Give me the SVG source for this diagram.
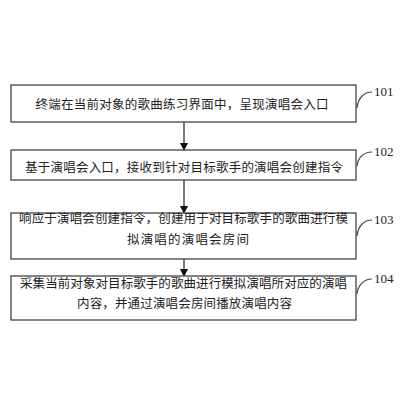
<svg xmlns="http://www.w3.org/2000/svg" width="400" height="400" viewBox="0 0 400 400">
<style>
.box{fill:#fff;stroke:#444;stroke-width:1.3}
.t{font-family:"Noto Sans CJK SC","Noto Sans CJK JP",sans-serif;font-size:12.5px;fill:#222;text-anchor:middle;dominant-baseline:central}
.lbl{font-family:"Liberation Serif",serif;font-size:13px;fill:#222}
.c{fill:none;stroke:#444;stroke-width:1.2}
.e{stroke:#333;stroke-width:1.3}
</style>
<defs>
<marker id="ah" markerWidth="8" markerHeight="8" refX="7" refY="4" orient="auto" markerUnits="userSpaceOnUse">
<path d="M0,0 L8,4 L0,8 Z" fill="#111"/>
</marker>
</defs>
<rect width="400" height="400" fill="#fff"/>
<g id="connectors">
<line class="e" x1="184" y1="122" x2="184" y2="150" marker-end="url(#ah)"/>
<line class="e" x1="184" y1="180" x2="184" y2="213" marker-end="url(#ah)"/>
<line class="e" x1="184" y1="259" x2="184" y2="276" marker-end="url(#ah)"/>
</g>
<g id="n101">
<rect class="box" x="11" y="85" width="345" height="37"/>
<text class="t" x="182" y="103" textLength="293" lengthAdjust="spacing">终端在当前对象的歌曲练习界面中，呈现演唱会入口</text>
<path class="c" d="M357,108 C358,98 364,92 372,92"/>
<text class="lbl" x="374" y="96">101</text>
</g>
<g id="n102">
<rect class="box" x="11" y="150" width="345" height="30"/>
<text class="t" x="184" y="166" textLength="318" lengthAdjust="spacing">基于演唱会入口，接收到针对目标歌手的演唱会创建指令</text>
<path class="c" d="M357,166 C358,157 364,152 372,152"/>
<text class="lbl" x="374" y="156">102</text>
</g>
<g id="n103">
<rect class="box" x="11" y="213" width="345" height="46"/>
<text class="t" x="183.5" y="217" textLength="329" lengthAdjust="spacing">响应于演唱会创建指令，创建用于对目标歌手的歌曲进行模</text>
<text class="t" x="188" y="238" textLength="122" lengthAdjust="spacing">拟演唱的演唱会房间</text>
<path class="c" d="M357,236 C358,226 364,220 372,220"/>
<text class="lbl" x="374" y="224">103</text>
</g>
<g id="n104">
<rect class="box" x="11" y="276" width="345" height="44"/>
<text class="t" x="183.5" y="282" textLength="327" lengthAdjust="spacing">采集当前对象对目标歌手的歌曲进行模拟演唱所对应的演唱</text>
<text class="t" x="184.5" y="302" textLength="215" lengthAdjust="spacing">内容，并通过演唱会房间播放演唱内容</text>
<path class="c" d="M357,294 C358,285 364,279 372,279"/>
<text class="lbl" x="374" y="283">104</text>
</g>
</svg>
